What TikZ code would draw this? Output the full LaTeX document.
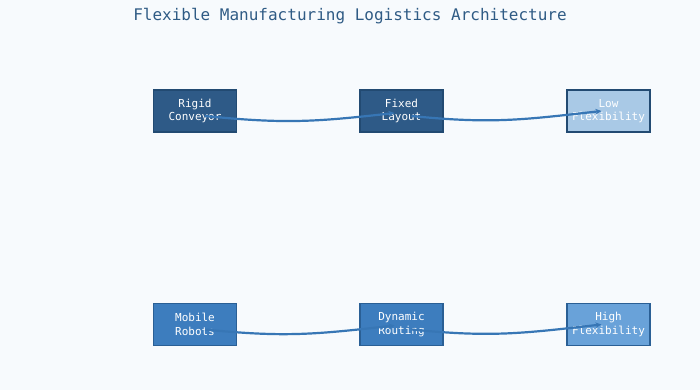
\documentclass[tikz,border=0pt]{standalone}
\usepackage{fontspec}
\setmonofont{DejaVu Sans Mono}
\usetikzlibrary{arrows.meta}
\definecolor{bg}{HTML}{F7FAFD}
\definecolor{titlec}{HTML}{2F5B85}
\definecolor{darkf}{HTML}{2E5A87}
\definecolor{darkb}{HTML}{224A72}
\definecolor{midf}{HTML}{3D7DBE}
\definecolor{midb}{HTML}{2A5F95}
\definecolor{lightf}{HTML}{A9C9E6}
\definecolor{highf}{HTML}{69A2D9}
\definecolor{edgec}{HTML}{3776B5}
\tikzset{
  box/.style={draw=#1, line width=1.3pt, minimum width=83pt, minimum height=42pt,
    align=center, font=\ttfamily\fontsize{11}{13.5}\selectfont, text=white, inner sep=0pt},
  flow/.style={draw=edgec, line width=2.2pt, -{Stealth[length=6pt,width=5.5pt]}},
}
\begin{document}
\begin{tikzpicture}[x=1pt,y=-1pt]
\fill[bg] (0,0) rectangle (700,390);
\useasboundingbox (0,0) rectangle (700,390);
\node[font=\ttfamily\fontsize{16}{18}\selectfont, text=titlec] (title) at (350,16.5) {Flexible Manufacturing Logistics Architecture};

\node[box=darkb, fill=darkf] (rc) at (195,111) {Rigid\\Conveyor};
\node[box=darkb, fill=darkf] (fl) at (401.5,111) {Fixed\\Layout};
\node[box=darkb, fill=lightf] (lf) at (608.5,111) {Low\\Flexibility};

\node[box=midb, fill=midf] (mr) at (195,324.5) {Mobile\\Robots};
\node[box=midb, fill=midf] (dr) at (401.5,324.5) {Dynamic\\Routing};
\node[box=midb, fill=highf] (hf) at (608.5,324.5) {High\\Flexibility};

\draw[flow] ([xshift=10pt,yshift=-5pt]rc.center) .. controls +(80,8) and +(-80,9) .. ([xshift=-7pt,yshift=-2pt]fl.center);
\draw[flow] ([xshift=10pt,yshift=-5pt]fl.center) .. controls +(80,8) and +(-80,9) .. ([xshift=-7pt,yshift=0pt]lf.center);
\draw[flow] ([xshift=10pt,yshift=-5pt]mr.center) .. controls +(80,8) and +(-80,9) .. ([xshift=-7pt,yshift=-1pt]dr.center);
\draw[flow] ([xshift=10pt,yshift=-5pt]dr.center) .. controls +(80,8) and +(-80,9) .. ([xshift=-7pt,yshift=0pt]hf.center);
\end{tikzpicture}
\end{document}
